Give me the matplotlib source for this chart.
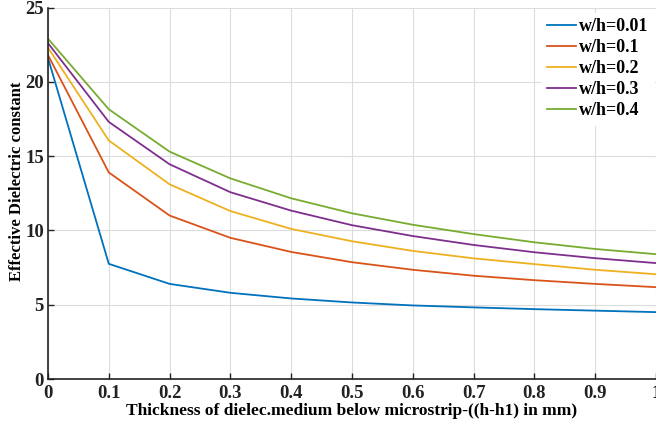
import matplotlib
matplotlib.use("Agg")
import matplotlib.pyplot as plt

x = [0, 0.1, 0.2, 0.3, 0.4, 0.5, 0.6, 0.7, 0.8, 0.9, 1.0]
wh001 = [21.6, 7.75, 6.4, 5.8, 5.42, 5.15, 4.95, 4.82, 4.7, 4.6, 4.5]
wh01 = [21.8, 13.9, 11.0, 9.5, 8.55, 7.86, 7.35, 6.95, 6.65, 6.4, 6.18]
wh02 = [22.3, 16.05, 13.1, 11.3, 10.1, 9.27, 8.62, 8.12, 7.73, 7.35, 7.05]
wh03 = [22.6, 17.3, 14.45, 12.57, 11.33, 10.35, 9.62, 9.02, 8.53, 8.13, 7.8]
wh04 = [22.9, 18.15, 15.3, 13.5, 12.16, 11.15, 10.38, 9.75, 9.2, 8.75, 8.4]
labels = ["w/h=0.01", "w/h=0.1", "w/h=0.2", "w/h=0.3", "w/h=0.4"]
series = [wh001, wh01, wh02, wh03, wh04]
colors = ["#0072BD", "#D95319", "#EDB120", "#7E2F8E", "#77AC30"]

plt.rcParams['font.family'] = ['Liberation Serif', 'DejaVu Serif']
plt.rcParams['font.weight'] = 'bold'

fig = plt.figure(figsize=(6.56, 4.33), dpi=100)
ax = fig.add_axes([48/656, 54/433, 608/656, 371.5/433])
for s, lab, c in zip(series, labels, colors):
    ax.plot(x, s, color=c, lw=1.3, label=lab)

ax.set_xlim(0, 1)
ax.set_ylim(0, 25)
ax.set_xticks(x)
ax.set_xticklabels(["0", "0.1", "0.2", "0.3", "0.4", "0.5", "0.6", "0.7", "0.8", "0.9", "1"])
ax.set_yticks([0, 5, 10, 15, 20, 25])
ax.grid(True, color="#dcdcdc", lw=0.8)
ax.set_axisbelow(True)
ax.tick_params(direction="in", length=4, width=1, labelsize=13.5, colors="#222222")
ax.tick_params(axis='x', pad=4)
ax.tick_params(axis='y', pad=3)
for lab in ax.get_xticklabels() + ax.get_yticklabels():
    lab.set_fontweight('bold')
ax.spines['top'].set_visible(False)
ax.spines['right'].set_visible(False)
ax.spines['left'].set_color("#222222")
ax.spines['bottom'].set_color("#222222")
ax.spines['left'].set_linewidth(1.2)
ax.spines['bottom'].set_linewidth(1.2)
ax.set_xlabel("Thickness of dielec.medium below microstrip-((h-h1) in mm)",
              fontsize=12.5, fontweight='bold', labelpad=1)
ax.set_ylabel("Effective Dielectric constant", fontsize=12, fontweight='bold')
ax.yaxis.set_label_coords(-0.038, 0.533)
leg = ax.legend(loc="upper right", frameon=True, fontsize=13, handlelength=1.6,
                handletextpad=0.2, labelspacing=0.22, borderaxespad=0.0,
                borderpad=0.3, bbox_to_anchor=(0.997, 0.985))
leg.get_frame().set_edgecolor("white")
leg.get_frame().set_alpha(1)
for t in leg.get_texts():
    t.set_fontweight('bold')

fig.savefig("out.png", dpi=100)
